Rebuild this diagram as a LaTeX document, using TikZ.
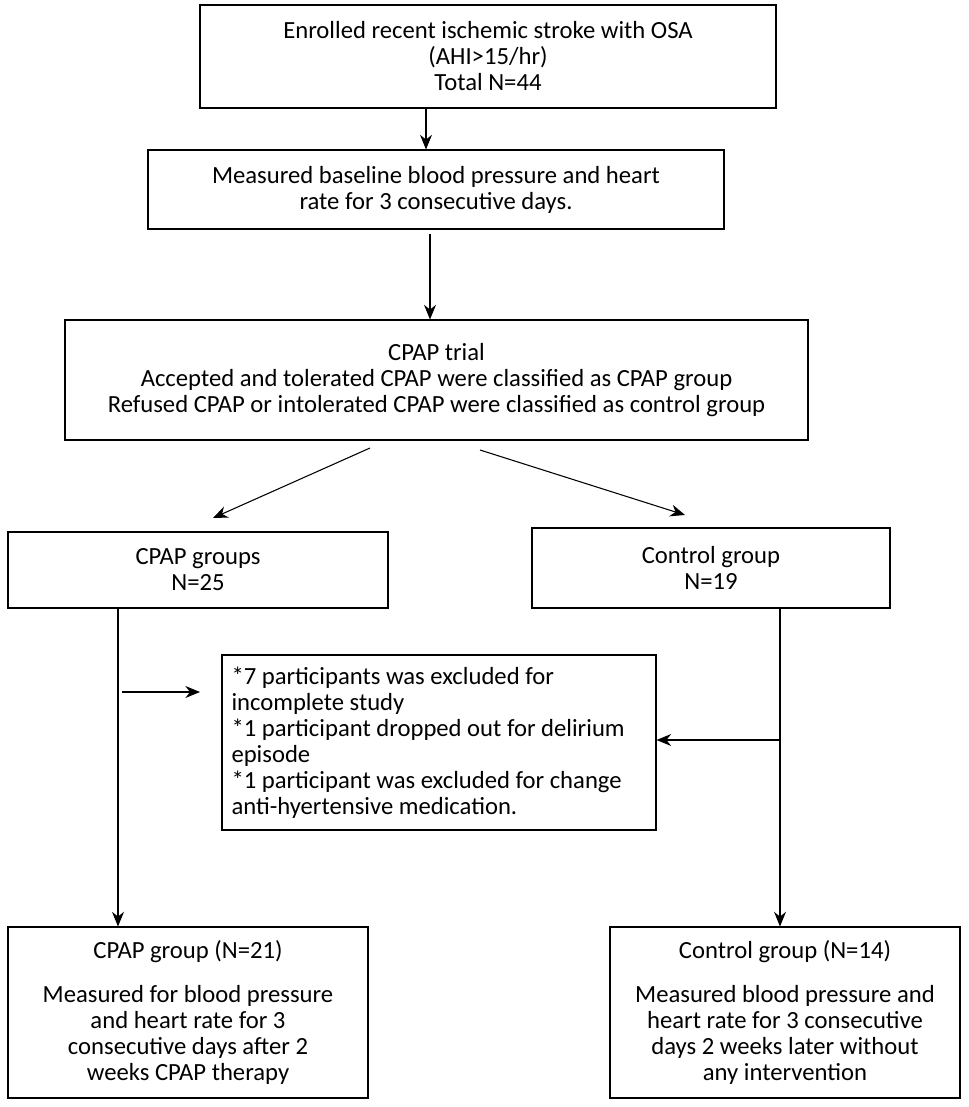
\documentclass[tikz,border=0pt]{standalone}
\usepackage{fontspec}
\setmainfont{Carlito}
\usetikzlibrary{arrows.meta}
\begin{document}
\begin{tikzpicture}[x=0.75pt,y=-0.75pt,
    flowbox/.style={draw,thick,align=center,inner sep=0pt,font=\fontsize{18.5}{19.5}\selectfont},
    flowarrow/.style={-{Stealth[length=11pt,width=9pt]},thick}]
        \useasboundingbox (0,0) rectangle (969,1107);
        \node [flowbox,minimum width=576*0.75pt,minimum height=103*0.75pt] (enrol) at (488,56.5)
            {Enrolled recent ischemic stroke with OSA\\(AHI>15/hr)\\Total N=44};
        \node [flowbox,minimum width=576*0.75pt,minimum height=79*0.75pt] (base) at (436,189.5)
            {Measured baseline blood pressure and heart\\rate for 3 consecutive days.};
        \node [flowbox,minimum width=743*0.75pt,minimum height=120*0.75pt] (trial) at (436.5,380)
            {CPAP trial\\Accepted and tolerated CPAP were classified as CPAP group\\Refused CPAP or intolerated CPAP were classified as control group};
        \node [flowbox,minimum width=380*0.75pt,minimum height=76*0.75pt] (cpap) at (198,570)
            {CPAP groups\\N=25};
        \node [flowbox,minimum width=358*0.75pt,minimum height=80*0.75pt] (ctrl) at (711,568)
            {Control group\\N=19};
        \node [flowbox,align=flush left,minimum width=434*0.75pt,minimum height=175*0.75pt,text width=415*0.75pt] (excl) at (439,742.5)
            {*7 participants was excluded for\\incomplete study\\{}*1 participant dropped out for delirium\\episode\\{}*1 participant was excluded for change\\anti-hyertensive medication.};
        \node [flowbox,minimum width=360*0.75pt,minimum height=171*0.75pt] (cpapend) at (188,1012.5)
            {CPAP group (N=21)\\[14pt]Measured for blood pressure\\and heart rate for 3\\consecutive days after 2\\weeks CPAP therapy};
        \node [flowbox,minimum width=350*0.75pt,minimum height=171*0.75pt] (ctrlend) at (785,1012.5)
            {Control group (N=14)\\[14pt]Measured blood pressure and\\heart rate for 3 consecutive\\days 2 weeks later without\\any intervention};

        \coordinate (tsplitL) at (370,448);
        \coordinate (tsplitR) at (480,450);
        \coordinate (cpapdown) at (118,608);
        \coordinate (ctrldown) at (780,608);
        \coordinate (cpapmid) at (118,692);
        \coordinate (ctrlmid) at (780,740);

        \draw [flowarrow] (426,108) -- (base.north -| 426,0);
        \draw [flowarrow] (430,234) -- (trial.north -| 430,0);
        \draw [flowarrow] (tsplitL) -- (213,518);
        \draw [flowarrow] (tsplitR) -- (685,515);
        \draw [thick] (cpapdown) -- (cpapmid);
        \draw [flowarrow] (cpapmid) -- (cpapend.north -| cpapmid);
        \draw [thick] (ctrldown) -- (ctrlmid);
        \draw [flowarrow] (ctrlmid) -- (ctrlend.north -| ctrlmid);
        \draw [flowarrow] (122,692) -- (200,692);
        \draw [flowarrow] (ctrlmid) -- (excl.east |- ctrlmid);
\end{tikzpicture}
\end{document}
